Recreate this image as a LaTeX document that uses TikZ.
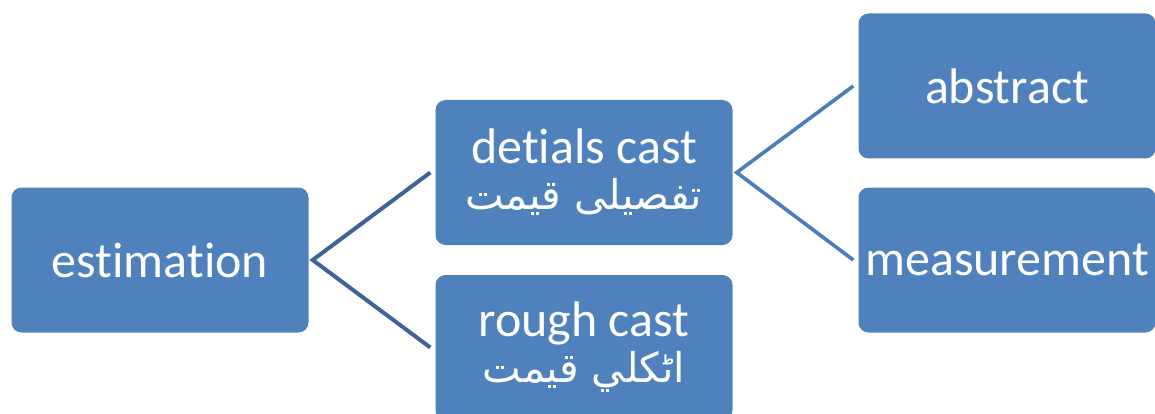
\documentclass[tikz,border=0pt]{standalone}
\usepackage{fontspec}
\setmainfont{Carlito}[Ligatures=NoCommon]
\newfontfamily\arabicfont[Script=Arabic]{DejaVu Sans}
\TeXXeTstate=1
\usetikzlibrary{calc}
\tikzset{
  box/.style={rectangle, rounded corners=10pt, fill=boxblue, draw=none,
    minimum width=297pt, minimum height=145pt, text=white, align=center,
    inner sep=0pt, font=\fontsize{50}{47}\selectfont},
  linkA/.style={draw=lineA, line width=4pt},
  linkB/.style={draw=lineB, line width=3.6pt}
}
\definecolor{boxblue}{RGB}{79,129,189}
\definecolor{lineA}{RGB}{61,99,153}
\definecolor{lineB}{RGB}{74,126,187}
\begin{document}
\begin{tikzpicture}[x=1pt,y=-1pt]
\useasboundingbox (0,0) rectangle (1155,414);
\clip (0,0) rectangle (1155,414);
\node[box] (est) at (160,260) {estimation};
\node[box] (det) at (584,172.5) {detials cast\\[-1pt]{\arabicfont\fontsize{41}{47}\selectfont\beginR تفصیلی قیمت\endR}};
\node[box] (rough) at (584,347.5) {rough cast\\[-1pt]{\arabicfont\fontsize{41}{47}\selectfont\beginR اٹكلي قيمت\endR}};
\node[box] (abs) at (1007,86) {abstract};
\node[box] (meas) at (1007,260) {measurement};
\coordinate (j1) at ($(est.east)+(4,0)$);
\coordinate (j2) at ($(det.east)+(4,0)$);
\draw[linkA] ($(det.west)+(-5,0)$) -- (j1) -- ($(rough.west)+(-5,0)$);
\draw[linkB] ($(abs.west)+(-5,0)$) -- (j2) -- ($(meas.west)+(-5,0)$);
\end{tikzpicture}
\end{document}
